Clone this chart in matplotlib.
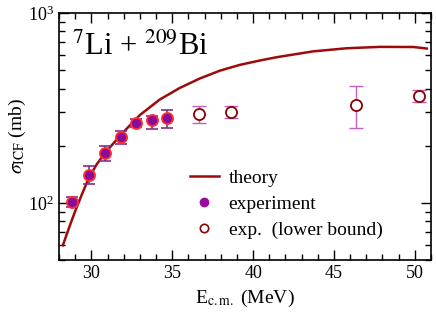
import matplotlib
matplotlib.use("Agg")
import matplotlib.pyplot as plt
from matplotlib.ticker import MultipleLocator

plt.rcParams['font.family'] = ['Liberation Serif', 'DejaVu Serif']
plt.rcParams['mathtext.fontset'] = 'stix'

# theory curve
theory_e = [28.24, 28.6, 28.97, 29.4, 29.79, 30.3, 30.82, 31.86, 33.0, 34.23, 35.47,
            36.71, 37.95, 39.18, 40.42, 41.46, 43.72, 45.79, 47.85, 49.91, 50.74]
theory_sigma = [59.8, 73, 89, 110, 132, 158, 182, 230, 290, 350, 403,
                452, 497, 533, 562, 585, 628, 652, 663, 662, 650]

# experiment
exp_e = [28.82, 29.85, 30.84, 31.81, 32.77, 33.73, 34.70]
exp_sigma = [101, 140, 182, 221, 264, 272, 280]
exp_lo = [95, 125, 167, 205, 252, 244, 247]
exp_hi = [107, 156, 199, 238, 275, 288, 309]

# lower bound points
lb_e = [36.66, 38.64, 46.39, 50.27]
lb_sigma = [292, 302, 329, 367]
lb_lo = [262, 280, 248, 340]
lb_hi = [323, 323, 414, 395]

fig = plt.figure(figsize=(4.36, 3.14), dpi=100)
ax = fig.add_axes([0.1353, 0.172, 0.8532, 0.7866])

ax.plot(theory_e, theory_sigma, color="#9e0a0a", lw=1.8, label="theory", zorder=2)

err = [[s - l for s, l in zip(exp_sigma, exp_lo)], [h - s for s, h in zip(exp_sigma, exp_hi)]]
ax.errorbar(exp_e, exp_sigma, yerr=err, fmt="none", ecolor="#80308a", elinewidth=1.2,
            capsize=4, capthick=1.2, zorder=3)
ax.plot(exp_e, exp_sigma, "o", ms=8, mfc="#8a0a9a", mec="#ff3030", mew=1.3, zorder=4)

err = [[s - l for s, l in zip(lb_sigma, lb_lo)], [h - s for s, h in zip(lb_sigma, lb_hi)]]
ax.errorbar(lb_e, lb_sigma, yerr=err, fmt="none", ecolor="#c060c0", elinewidth=1.0,
            capsize=5, capthick=1.0, zorder=3)
ax.plot(lb_e, lb_sigma, "o", ms=8, mfc="white", mec="#8b0000", mew=1.3, zorder=4)

# legend proxies
ax.plot([], [], "o", ms=6, mfc="#9a0a9a", mec="#9a0a9a", label="experiment")
ax.plot([], [], "o", ms=6, mfc="white", mec="#8b0000", mew=1.2, label="exp.  (lower bound)")
handles, labels = ax.get_legend_handles_labels()
ax.legend(handles, labels, loc="upper left", bbox_to_anchor=(0.325, 0.405), frameon=False,
          fontsize=14, handlelength=1.5, handletextpad=0.5, labelspacing=0.42, borderpad=0)

ax.set_yscale("log")
ax.set_xlim(28, 51)
ax.set_ylim(50, 1000)
ax.xaxis.set_major_locator(MultipleLocator(5))
ax.xaxis.set_minor_locator(MultipleLocator(1))
ax.tick_params(which="both", direction="in", top=True, right=True, labelsize=13, width=1)
ax.tick_params(which="major", length=7)
ax.tick_params(which="minor", length=4)
for sp in ax.spines.values():
    sp.set_linewidth(1.2)

ax.set_xlabel(r"E$_{\rm c.m.}$ (MeV)", fontsize=14, labelpad=4)
ax.set_ylabel(r"$\sigma_{\rm ICF}$ (mb)", fontsize=14, labelpad=0)
ax.text(0.035, 0.83, r"$^{7}$Li + $^{209}$Bi", transform=ax.transAxes, fontsize=22)

fig.savefig("out.png", dpi=100)
